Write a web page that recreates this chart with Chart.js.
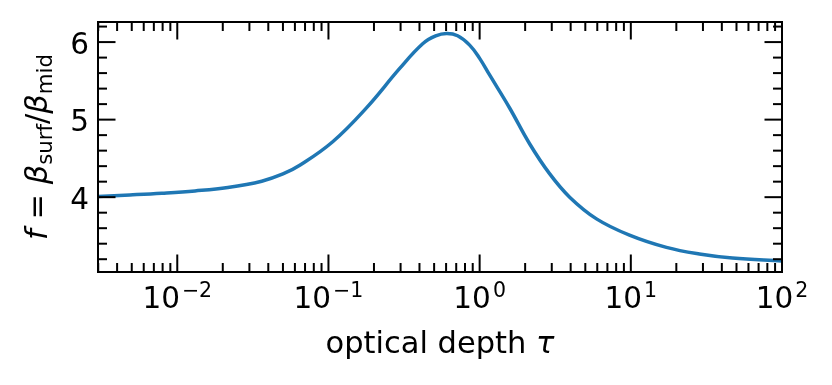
<!DOCTYPE html>
<html><head><meta charset="utf-8">
<script src="https://cdn.jsdelivr.net/npm/chart.js@4"></script>
<style>html,body{margin:0;padding:0;background:#fff}</style>
</head><body>
<canvas id="c" width="832" height="385" style="width:832px;height:385px;display:block"></canvas>
<script>
// ---- data ----
const tau    = [0.003, 0.00486, 0.00791, 0.0131, 0.0216, 0.0362, 0.05, 0.0646, 0.1067, 0.179, 0.296, 0.42, 0.512, 0.605, 0.715, 0.859, 1.0, 1.164, 1.579, 2.14, 2.90, 3.94, 5.93, 9.80, 17.2, 28.4, 47.0, 100];
const fRatio = [4.010, 4.029, 4.051, 4.081, 4.125, 4.206, 4.299, 4.411, 4.715, 5.155, 5.660, 5.978, 6.079, 6.110, 6.081, 5.961, 5.790, 5.576, 5.150, 4.689, 4.303, 4.000, 3.720, 3.510, 3.352, 3.267, 3.215, 3.177];
const xMajorTicks = [0.01, 0.1, 1, 10, 100];
const xTickExponents = ['\u22122', '\u22121', '0', '1', '2'];
const yMajorTicks = [4, 5, 6];
const yMinorTicks = [3.2, 3.4, 3.6, 3.8, 4.2, 4.4, 4.6, 4.8, 5.2, 5.4, 5.6, 5.8, 6.2];
const xRange = [0.00299, 100];
const yRange = [3.035, 6.259];

const FONT = "'DejaVu Sans'";

function drawRuns(ctx, runs, x, y, align) {
  let total = 0;
  runs.forEach(r => { ctx.font = r.font; r.w = ctx.measureText(r.text).width + (r.gap || 0); total += r.w; });
  let cx = align === 'center' ? x - total / 2 : (align === 'right' ? x - total : x);
  ctx.textAlign = 'left';
  ctx.textBaseline = 'alphabetic';
  runs.forEach(r => { ctx.font = r.font; ctx.fillText(r.text, cx + (r.gap || 0), y + (r.dy || 0)); cx += r.w; });
}

const axesPlugin = {
  id: 'mplAxes',
  afterDraw(chart) {
    const ctx = chart.ctx, a = chart.chartArea, xs = chart.scales.x, ys = chart.scales.y;
    ctx.save();
    ctx.strokeStyle = '#000';
    ctx.fillStyle = '#000';
    ctx.lineCap = 'butt';
    const majL = 17.5, minL = 9;
    ctx.lineWidth = 2;
    const vline = (px, y0, y1) => { ctx.beginPath(); ctx.moveTo(px, y0); ctx.lineTo(px, y1); ctx.stroke(); };
    const hline = (py, x0, x1) => { ctx.beginPath(); ctx.moveTo(x0, py); ctx.lineTo(x1, py); ctx.stroke(); };
    xMajorTicks.forEach(v => { const px = xs.getPixelForValue(v); vline(px, a.bottom, a.bottom - majL); vline(px, a.top, a.top + majL); });
    for (let k = -3; k <= 1; k++) for (let m = 2; m <= 9; m++) {
      const v = m * Math.pow(10, k);
      if (v < xRange[0] || v > xRange[1]) continue;
      const px = xs.getPixelForValue(v);
      vline(px, a.bottom, a.bottom - minL); vline(px, a.top, a.top + minL);
    }
    yMajorTicks.forEach(v => { const py = ys.getPixelForValue(v); hline(py, a.left, a.left + majL); hline(py, a.right, a.right - majL); });
    yMinorTicks.forEach(v => { const py = ys.getPixelForValue(v); hline(py, a.left, a.left + minL); hline(py, a.right, a.right - minL); });
    ctx.lineWidth = 2;
    ctx.strokeRect(a.left, a.top, a.right - a.left, a.bottom - a.top);
    // x tick labels
    xMajorTicks.forEach((v, i) => {
      const px = xs.getPixelForValue(v);
      drawRuns(ctx, [
        { text: '10', font: '29.5px ' + FONT },
        { text: xTickExponents[i], font: '20.5px ' + FONT, dy: -10.5, gap: 2 }
      ], px, 307.5, 'center');
    });
    // y tick labels
    ctx.font = '29.5px ' + FONT;
    ctx.textAlign = 'right';
    ctx.textBaseline = 'alphabetic';
    yMajorTicks.forEach(v => {
      const py = ys.getPixelForValue(v);
      ctx.fillText(String(v), 89, py + 11.5);
    });
    // x axis title
    drawRuns(ctx, [
      { text: 'optical depth ', font: '30.5px ' + FONT },
      { text: '\u03c4', font: 'italic 30.5px ' + FONT }
    ], (a.left + a.right) / 2, 353, 'center');
    // y axis title (rotated)
    ctx.translate(46.5, (a.top + a.bottom) / 2);
    ctx.rotate(-Math.PI / 2);
    drawRuns(ctx, [
      { text: 'f', font: 'italic 30.5px ' + FONT },
      { text: ' = ', font: '30.5px ' + FONT },
      { text: '\u03b2', font: 'italic 30.5px ' + FONT },
      { text: 'surf', font: '21.3px ' + FONT, dy: 5 },
      { text: '/', font: '30.5px ' + FONT },
      { text: '\u03b2', font: 'italic 30.5px ' + FONT },
      { text: 'mid', font: '21.3px ' + FONT, dy: 5 }
    ], 0, 0, 'center');
    ctx.restore();
  }
};

new Chart(document.getElementById('c'), {
  type: 'line',
  data: {
    datasets: [{
      data: tau.map((t, i) => ({ x: t, y: fRatio[i] })),
      borderColor: '#1f77b4',
      borderWidth: 3.5,
      pointRadius: 0,
      fill: false,
      tension: 0.4
    }]
  },
  options: {
    responsive: false,
    animation: false,
    devicePixelRatio: 1,
    layout: { padding: { left: 98, top: 22, right: 50, bottom: 113 } },
    plugins: { legend: { display: false }, tooltip: { enabled: false } },
    scales: {
      x: { type: 'logarithmic', min: xRange[0], max: xRange[1], display: false },
      y: { type: 'linear', min: yRange[0], max: yRange[1], display: false }
    }
  },
  plugins: [axesPlugin]
});
</script>
</body></html>
